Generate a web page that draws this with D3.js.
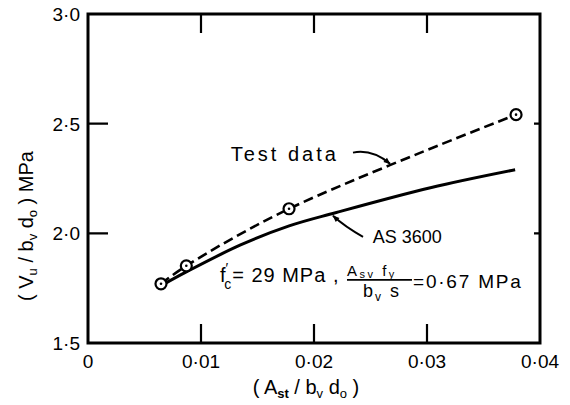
<!DOCTYPE html>
<html lang="en">
<head>
    <meta charset="UTF-8"/>
    <title>shear</title>
    <script src="https://d3js.org/d3.v7.min.js"></script>
    <style type="text/css">
        body { margin: 0; background: #fff; }
        text {
            font-family: "Liberation Sans", Arial, sans-serif;
            fill: #000;
        }
    </style>
</head>
<body>
<div id="chart"></div>
<script>

// data
var testX = [0.00646, 0.0087, 0.01779, 0.03788];
var testY = [1.770, 1.852, 2.112, 2.541];

var codeX = [0.0066, 0.0087, 0.0135, 0.0178, 0.0219, 0.0303, 0.0378];
var codeY = [1.765, 1.824, 1.947, 2.034, 2.094, 2.208, 2.290];

var xTicks = [0, 0.01, 0.02, 0.03, 0.04];
var xTickLabels = ["0", "0·01", "0·02", "0·03", "0·04"];
var yTicks = [1.5, 2.0, 2.5, 3.0];
var yTickLabels = ["1·5", "2·0", "2·5", "3·0"];

// size of the svg and plot frame
var W = 570, H = 405;
var margin = {top: 14, right: 30, bottom: 62, left: 88};
var width = W - margin.left - margin.right,
    height = H - margin.top - margin.bottom;

var svg = d3.select("#chart")
  .append("svg")
    .attr("width", W)
    .attr("height", H);

var g = svg.append("g")
    .attr("transform", "translate(" + margin.left + "," + margin.top + ")");

var x = d3.scaleLinear().domain([0, 0.04]).range([0, width]);
var y = d3.scaleLinear().domain([1.5, 3.0]).range([height, 0]);

// frame
g.append("path")
  .attr("d", "M0,0H" + width + "V" + height + "H0Z")
  .attr("fill", "none")
  .attr("stroke", "#000")
  .attr("stroke-width", 3);

// inward ticks: long on left, top and bottom, short on the right
var tp = d3.path();
xTicks.slice(1, 4).forEach(function(d) {
  tp.moveTo(x(d), height); tp.lineTo(x(d), height - 19);
  tp.moveTo(x(d), 0); tp.lineTo(x(d), 19);
});
yTicks.slice(1, 3).forEach(function(d) {
  tp.moveTo(0, y(d)); tp.lineTo(20, y(d));
  tp.moveTo(width, y(d)); tp.lineTo(width - 6, y(d));
});
g.append("path")
  .attr("d", tp.toString())
  .attr("fill", "none")
  .attr("stroke", "#000")
  .attr("stroke-width", 2.2);

// tick labels
g.selectAll(".xl")
  .data(xTicks)
  .enter()
  .append("text")
    .attr("x", function(d) { return x(d); })
    .attr("y", height + 25)
    .attr("text-anchor", "middle")
    .style("font-size", "19px")
    .text(function(d, i) { return xTickLabels[i]; });

g.selectAll(".yl")
  .data(yTicks)
  .enter()
  .append("text")
    .attr("x", -8)
    .attr("y", function(d) { return y(d) + 7; })
    .attr("text-anchor", "end")
    .style("font-size", "19px")
    .text(function(d, i) { return yTickLabels[i]; });

// curves
var line = d3.line()
  .x(function(d) { return x(d[0]); })
  .y(function(d) { return y(d[1]); })
  .curve(d3.curveCatmullRom);

var codeData = codeX.map(function(v, i) { return [v, codeY[i]]; });
var testData = testX.map(function(v, i) { return [v, testY[i]]; });

g.append("path")
  .datum(codeData)
  .attr("d", line)
  .attr("fill", "none")
  .attr("stroke", "#000")
  .attr("stroke-width", 3);

g.append("path")
  .datum(testData)
  .attr("d", line)
  .attr("fill", "none")
  .attr("stroke", "#000")
  .attr("stroke-width", 2.6)
  .attr("stroke-dasharray", "10,5");

// test points
var pts = g.selectAll(".pt")
  .data(testData)
  .enter()
  .append("g")
    .attr("transform", function(d) { return "translate(" + x(d[0]) + "," + y(d[1]) + ")"; });
pts.append("circle")
  .attr("r", 5.5)
  .attr("fill", "#fff")
  .attr("stroke", "#000")
  .attr("stroke-width", 2.2);
pts.append("circle")
  .attr("r", 1.3)
  .attr("fill", "#000");

// arrow heads
svg.append("defs").append("marker")
  .attr("id", "head")
  .attr("viewBox", "0 0 10 10")
  .attr("refX", 9).attr("refY", 5)
  .attr("markerWidth", 10).attr("markerHeight", 7)
  .attr("markerUnits", "userSpaceOnUse")
  .attr("orient", "auto")
  .append("path")
    .attr("d", "M0,1 L10,5 L0,9 Z")
    .attr("fill", "#000");

function curveArrow(p) {
  return "M" + x(p[0][0]) + "," + y(p[0][1]) +
         "Q" + x(p[1][0]) + "," + y(p[1][1]) + " " + x(p[2][0]) + "," + y(p[2][1]);
}

var testArrow = [[0.02345, 2.368], [0.02513, 2.385], [0.02673, 2.317]];
var codeArrow = [[0.02434, 1.984], [0.02274, 2.030], [0.02168, 2.080]];

[testArrow, codeArrow].forEach(function(p) {
  g.append("path")
    .attr("d", curveArrow(p))
    .attr("fill", "none")
    .attr("stroke", "#000")
    .attr("stroke-width", 2)
    .attr("marker-end", "url(#head)");
});

// labels
g.append("text")
  .attr("x", x(0.0222))
  .attr("y", y(2.331))
  .attr("text-anchor", "end")
  .style("font-size", "20px")
  .style("letter-spacing", "3px")
  .text("Test data");

g.append("text")
  .attr("x", x(0.0252))
  .attr("y", y(1.955))
  .style("font-size", "18px")
  .text("AS 3600");

// formula, laid out from one anchor
var ax = x(0.01168), ay = y(1.7785);
var fm = g.append("g").attr("transform", "translate(" + ax + "," + ay + ")");

var fc = fm.append("text").attr("x", 0).attr("y", 0).style("font-size", "20px");
fc.append("tspan").text("f");
fc.append("tspan").attr("dx", 0).attr("dy", -9).style("font-size", "14px").text("′");
fc.append("tspan").attr("dx", -4).attr("dy", 16).style("font-size", "14px").text("c");
fc.append("tspan").attr("dx", 1).attr("dy", -7).style("letter-spacing", "1px").text("= 29 MPa ,");

var num = fm.append("text")
  .attr("x", 127).attr("y", -6)
  .style("font-size", "15px")
  .style("letter-spacing", "2.5px");
num.append("tspan").text("A");
num.append("tspan").attr("dy", 2).style("font-size", "11px").text("sv");
num.append("tspan").attr("dy", -2).text(" f");
num.append("tspan").attr("dy", 2).style("font-size", "11px").text("y");

fm.append("path")
  .attr("d", "M127,-2H192")
  .attr("stroke", "#000").attr("stroke-width", 1.8);

var den = fm.append("text")
  .attr("x", 143).attr("y", 15)
  .style("font-size", "18px")
  .style("letter-spacing", "2px");
den.append("tspan").text("b");
den.append("tspan").attr("dy", 4).style("font-size", "12px").text("v");
den.append("tspan").attr("dy", -4).text(" s");

fm.append("text")
  .attr("x", 193).attr("y", 6)
  .style("font-size", "19px")
  .style("letter-spacing", "1.8px")
  .text("=0·67 MPa");

// axis titles
var xt = svg.append("text")
  .attr("x", 306)
  .attr("y", 394)
  .attr("text-anchor", "middle")
  .style("font-size", "20px");
xt.append("tspan").text("( A");
xt.append("tspan").attr("dy", 4).style("font-size", "13px").style("font-weight", "bold").text("st");
xt.append("tspan").attr("dy", -4).text(" / b");
xt.append("tspan").attr("dy", 4).style("font-size", "13px").text("v");
xt.append("tspan").attr("dy", -4).text(" d");
xt.append("tspan").attr("dy", 4).style("font-size", "13px").text("o");
xt.append("tspan").attr("dy", -4).text(" )");

var yt = svg.append("text")
  .attr("transform", "translate(33,226) rotate(-90)")
  .attr("text-anchor", "middle")
  .style("font-size", "20px");
yt.append("tspan").text("( V");
yt.append("tspan").attr("dy", 4).style("font-size", "13px").text("u");
yt.append("tspan").attr("dy", -4).text(" / b");
yt.append("tspan").attr("dy", 4).style("font-size", "13px").text("v");
yt.append("tspan").attr("dy", -4).text(" d");
yt.append("tspan").attr("dy", 4).style("font-size", "13px").text("o");
yt.append("tspan").attr("dy", -4).text(" )  MPa");

</script>
</body>
</html>
